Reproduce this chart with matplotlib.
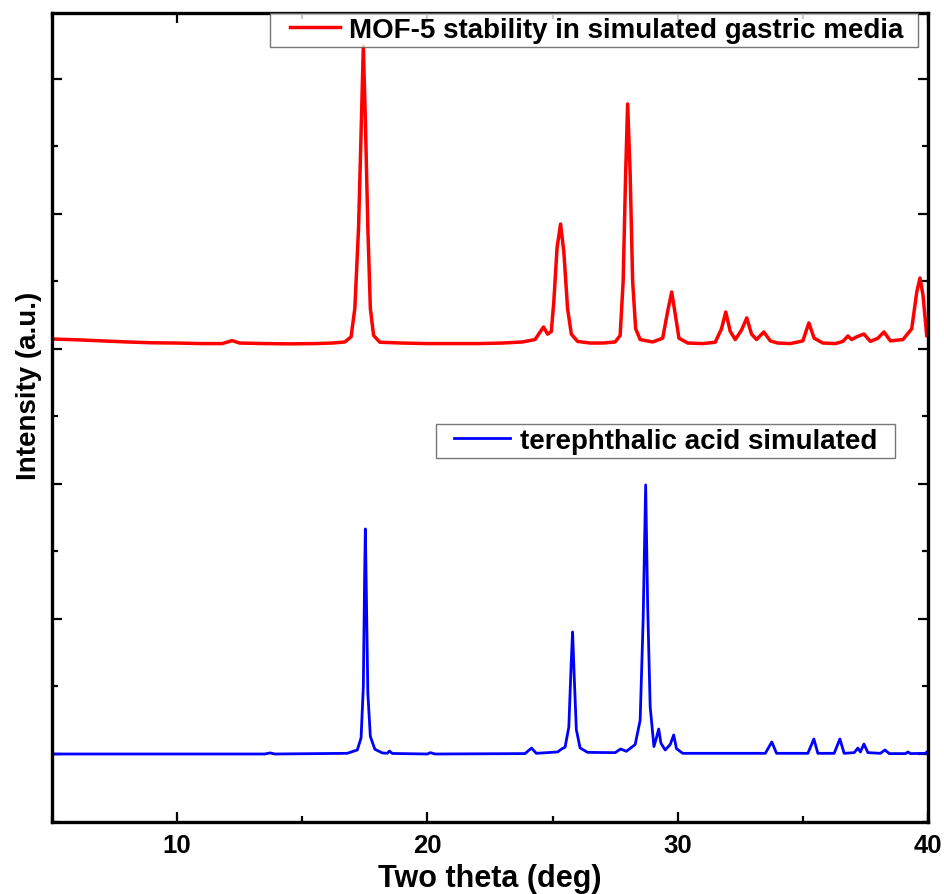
import matplotlib
matplotlib.use("Agg")
import matplotlib.pyplot as plt
from matplotlib.ticker import MultipleLocator
from matplotlib.offsetbox import DrawingArea

plt.rcParams['font.family'] = ['Liberation Sans', 'DejaVu Sans']
plt.rcParams['font.weight'] = 'bold'

# MOF-5 after simulated gastric media
red_x = [5.0, 6.0, 7.0, 8.0, 9.0, 10.0, 11.0, 11.8, 12.2, 12.5, 13.5, 14.5, 15.5,
         16.2, 16.7, 16.95, 17.1, 17.25, 17.35, 17.44, 17.52, 17.62, 17.72, 17.85,
         18.1, 19.0, 20.0, 21.0, 22.0, 23.0, 23.8, 24.3, 24.64, 24.8, 24.95, 25.05,
         25.18, 25.32, 25.45, 25.6, 25.75, 26.0, 26.5, 27.0, 27.5, 27.7, 27.82, 27.92,
         28.0, 28.1, 28.2, 28.32, 28.5, 29.0, 29.4, 29.6, 29.76, 29.9, 30.05, 30.4,
         31.0, 31.5, 31.75, 31.92, 32.1, 32.3, 32.55, 32.76, 32.95, 33.15, 33.44,
         33.7, 34.0, 34.5, 35.0, 35.24, 35.45, 35.8, 36.3, 36.6, 36.8, 36.95, 37.15,
         37.44, 37.7, 38.0, 38.24, 38.5, 39.0, 39.35, 39.55, 39.68, 39.8, 39.95, 40.0]
red_y = [3074, 3068, 3060, 3052, 3046, 3044, 3040, 3040, 3062, 3044, 3040, 3038, 3040,
         3044, 3052, 3090, 3300, 3900, 4600, 5244, 4700, 3900, 3300, 3100,
         3050, 3044, 3040, 3040, 3040, 3044, 3052, 3070, 3163, 3110, 3130, 3350,
         3750, 3926, 3720, 3300, 3110, 3056, 3044, 3044, 3052, 3100, 3500, 4300,
         4815, 4300, 3500, 3150, 3070, 3052, 3080, 3280, 3422, 3260, 3080, 3044,
         3040, 3050, 3150, 3274, 3130, 3070, 3140, 3230, 3110, 3070, 3126,
         3060, 3044, 3040, 3060, 3193, 3080, 3044, 3040, 3056, 3096, 3070, 3090,
         3111, 3056, 3080, 3126, 3060, 3070, 3150, 3420, 3526, 3400, 3096, 3096]

# terephthalic acid, simulated pattern
blue_x = [5.0, 13.5, 13.72, 13.9, 16.8, 17.2, 17.35, 17.44, 17.49, 17.52, 17.56, 17.62,
          17.72, 17.9, 18.2, 18.4, 18.48, 18.6, 20.0, 20.12, 20.3, 23.9, 24.16, 24.35,
          25.2, 25.36, 25.5, 25.65, 25.74, 25.8, 25.86, 25.95, 26.1, 26.4, 27.5, 27.72,
          27.95, 28.3, 28.5, 28.62, 28.72, 28.8, 28.9, 29.05, 29.15, 29.24, 29.33, 29.5,
          29.7, 29.84, 29.95, 30.2, 33.5, 33.76, 33.95, 35.2, 35.44, 35.6, 36.25, 36.48,
          36.65, 37.05, 37.2, 37.3, 37.44, 37.6, 38.1, 38.28, 38.45, 39.1, 39.2, 39.3,
          39.9, 40.0]
blue_y = [0, 0, 8, 0, 5, 30, 120, 500, 1300, 1667, 1200, 450,
          130, 35, 8, 5, 22, 4, 0, 10, 0, 3, 44, 5,
          15, 37, 50, 200, 650, 904, 600, 180, 45, 12, 10, 37,
          20, 70, 250, 1000, 1993, 1100, 350, 55, 120, 185, 80, 30,
          70, 141, 40, 5, 5, 89, 5, 5, 111, 5, 5, 111,
          5, 10, 44, 15, 74, 10, 5, 30, 3, 3, 15, 3,
          5, 22]


def make_legend(ax, line, anchor, pad_left, pad_right, hlen):
    leg = ax.legend(handles=[line], loc='upper right', bbox_to_anchor=anchor,
                    borderaxespad=0, fancybox=False, edgecolor='#555555',
                    borderpad=0.15, handlelength=hlen, handletextpad=0.35,
                    prop={'weight': 'bold', 'size': 20})
    leg.get_frame().set_linewidth(1.0)
    # extra side room in the box, like the original
    item = leg._legend_handle_box.get_children()[0].get_children()[0]
    kids = item.get_children()
    kids.insert(0, DrawingArea(pad_left, 1))
    kids.append(DrawingArea(pad_right, 1))
    return leg


fig = plt.figure(figsize=(9.45, 8.95), dpi=100)
ax = fig.add_axes([0.055, 0.0804, 0.927, 0.904])

l1, = ax.plot(red_x, red_y, color='#ff0000', lw=2.5,
              label='MOF-5 stability in simulated gastric media')
l2, = ax.plot(blue_x, blue_y, color='#0000ff', lw=2.0,
              label='terephthalic acid simulated')

ax.set_xlim(5, 40)
ax.set_ylim(-504, 5489)
ax.xaxis.set_major_locator(MultipleLocator(10))
ax.xaxis.set_minor_locator(MultipleLocator(5))
ax.yaxis.set_major_locator(MultipleLocator(1000))
ax.yaxis.set_minor_locator(MultipleLocator(500))
ax.set_yticklabels([])
ax.tick_params(which='both', direction='in', top=True, right=True, width=1.6)
ax.tick_params(which='major', length=7)
ax.tick_params(which='minor', length=4)
ax.tick_params(axis='x', labelsize=18.5, pad=8)
for s in ax.spines.values():
    s.set_linewidth(2.4)

ax.set_xlabel('Two theta (deg)', fontsize=22, fontweight='bold', labelpad=4)
ax.set_ylabel('Intensity (a.u.)', fontsize=20, fontweight='bold')
ax.yaxis.set_label_coords(-0.011, 0.54)

leg1 = make_legend(ax, l1, (0.989, 1.0), 4.5, 0.5, 1.8)
ax.add_artist(leg1)
leg2 = make_legend(ax, l2, (0.962, 0.492), 3.5, 2.8, 2.0)

fig.savefig('out.png', dpi=100)
